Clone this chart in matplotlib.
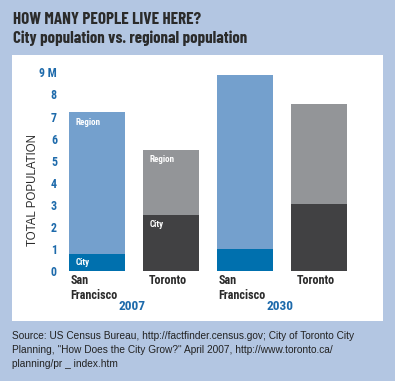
import matplotlib.pyplot as plt
from matplotlib.patches import Rectangle

# data (millions)
cities = ["San\nFrancisco", "Toronto", "San\nFrancisco", "Toronto"]
years = ["2007", "2030"]
city_pop = [0.76, 2.55, 1.0, 3.05]
region_pop = [7.2, 5.5, 8.9, 7.55]
tick_vals = [0, 1, 2, 3, 4, 5, 6, 7, 8, 9]
tick_labels = ["0", "1", "2", "3", "4", "5", "6", "7", "8", "9 M"]

bg = "#b3c6e2"
region_colors = ["#74a0cd", "#939598", "#74a0cd", "#939598"]
city_colors = ["#0070ae", "#414143", "#0070ae", "#414143"]
blue_txt = "#1d6aab"
dark = "#2b2b2b"
title_font = ["Barlow Condensed", "DejaVu Sans"]
cond = ["Roboto Condensed", "DejaVu Sans"]
body = ["Liberation Sans", "DejaVu Sans"]

W, H = 395, 381
fig = plt.figure(figsize=(W / 100, H / 100), dpi=100)
fig.patch.set_facecolor(bg)

# white panel
fig.add_artist(Rectangle((12 / W, 1 - 321 / H), (383 - 12) / W, (321 - 55) / H,
                         transform=fig.transFigure, facecolor="white",
                         edgecolor="none", zorder=0))

fig.text(13 / W, 1 - 24 / H, "HOW MANY PEOPLE LIVE HERE?", family=title_font,
         weight="bold", fontsize=12.3, color=dark, va="baseline")
fig.text(13 / W, 1 - 43 / H, "City population vs. regional population", family=title_font,
         weight="bold", fontsize=12.1, color=dark, va="baseline")

# axes placed in pixels: x centres at 97..319 px, y 0 at 271 px
ymax = 9.5
ppu = 22.07
left_px, right_px = 67.4, 363.4
ax = fig.add_axes([left_px / W, 1 - 271 / H, (right_px - left_px) / W, ymax * ppu / H])
ax.set_facecolor("none")
ax.set_xlim(-0.4, 3.6)
ax.set_ylim(0, ymax)

x = list(range(len(cities)))
w = 0.757
ax.bar(x, city_pop, width=w, color=city_colors, zorder=2)
ax.bar(x, [r - c for r, c in zip(region_pop, city_pop)], bottom=city_pop,
       width=w, color=region_colors, zorder=2)

for s in ax.spines.values():
    s.set_visible(False)
ax.set_xticks([])
ax.set_yticks(tick_vals)
ax.set_yticklabels(tick_labels, family=cond, weight="bold", fontsize=8.6, color=blue_txt)
ax.tick_params(axis="y", length=0, pad=7.5)

fig.text(33 / W, 1 - 190 / H, "TOTAL POPULATION", rotation=90, family=body,
         fontsize=8.3, color=dark, ha="center", va="center")

# labels inside the 2007 bars
for i in range(2):
    ax.text(x[i] - w / 2 + 0.09, region_pop[i] - 0.25, "Region", family=cond,
            weight="bold", fontsize=6.5, color="white", va="top")
ax.text(x[0] - w / 2 + 0.09, city_pop[0] / 2, "City", family=cond,
        weight="bold", fontsize=6.5, color="white", va="center")
ax.text(x[1] - w / 2 + 0.09, city_pop[1] - 0.25, "City", family=cond,
        weight="bold", fontsize=6.5, color="white", va="top")

# category labels
for i, name in enumerate(cities):
    off = 0.02 if "San" in name else 0.08
    ax.text(x[i] - w / 2 + off, -0.15, name, family=cond, weight="bold",
            fontsize=8.7, color=dark, va="top", ha="left", linespacing=1.15)

for j, yr in enumerate(years):
    ax.text(2 * j + 0.5 - 0.03, -1.63, yr, family=cond, weight="bold",
            fontsize=9.6, color=blue_txt, ha="center", va="center")

fig.text(12 / W, 1 - 331 / H,
         "Source: US Census Bureau, http://factfinder.census.gov; City of Toronto City\n"
         "Planning, \"How Does the City Grow?\" April 2007, http://www.toronto.ca/\n"
         "planning/pr _ index.htm",
         family=body, fontsize=7.3, color="#222222", va="top", linespacing=1.5)

fig.savefig("out.png", dpi=100, facecolor=bg)
